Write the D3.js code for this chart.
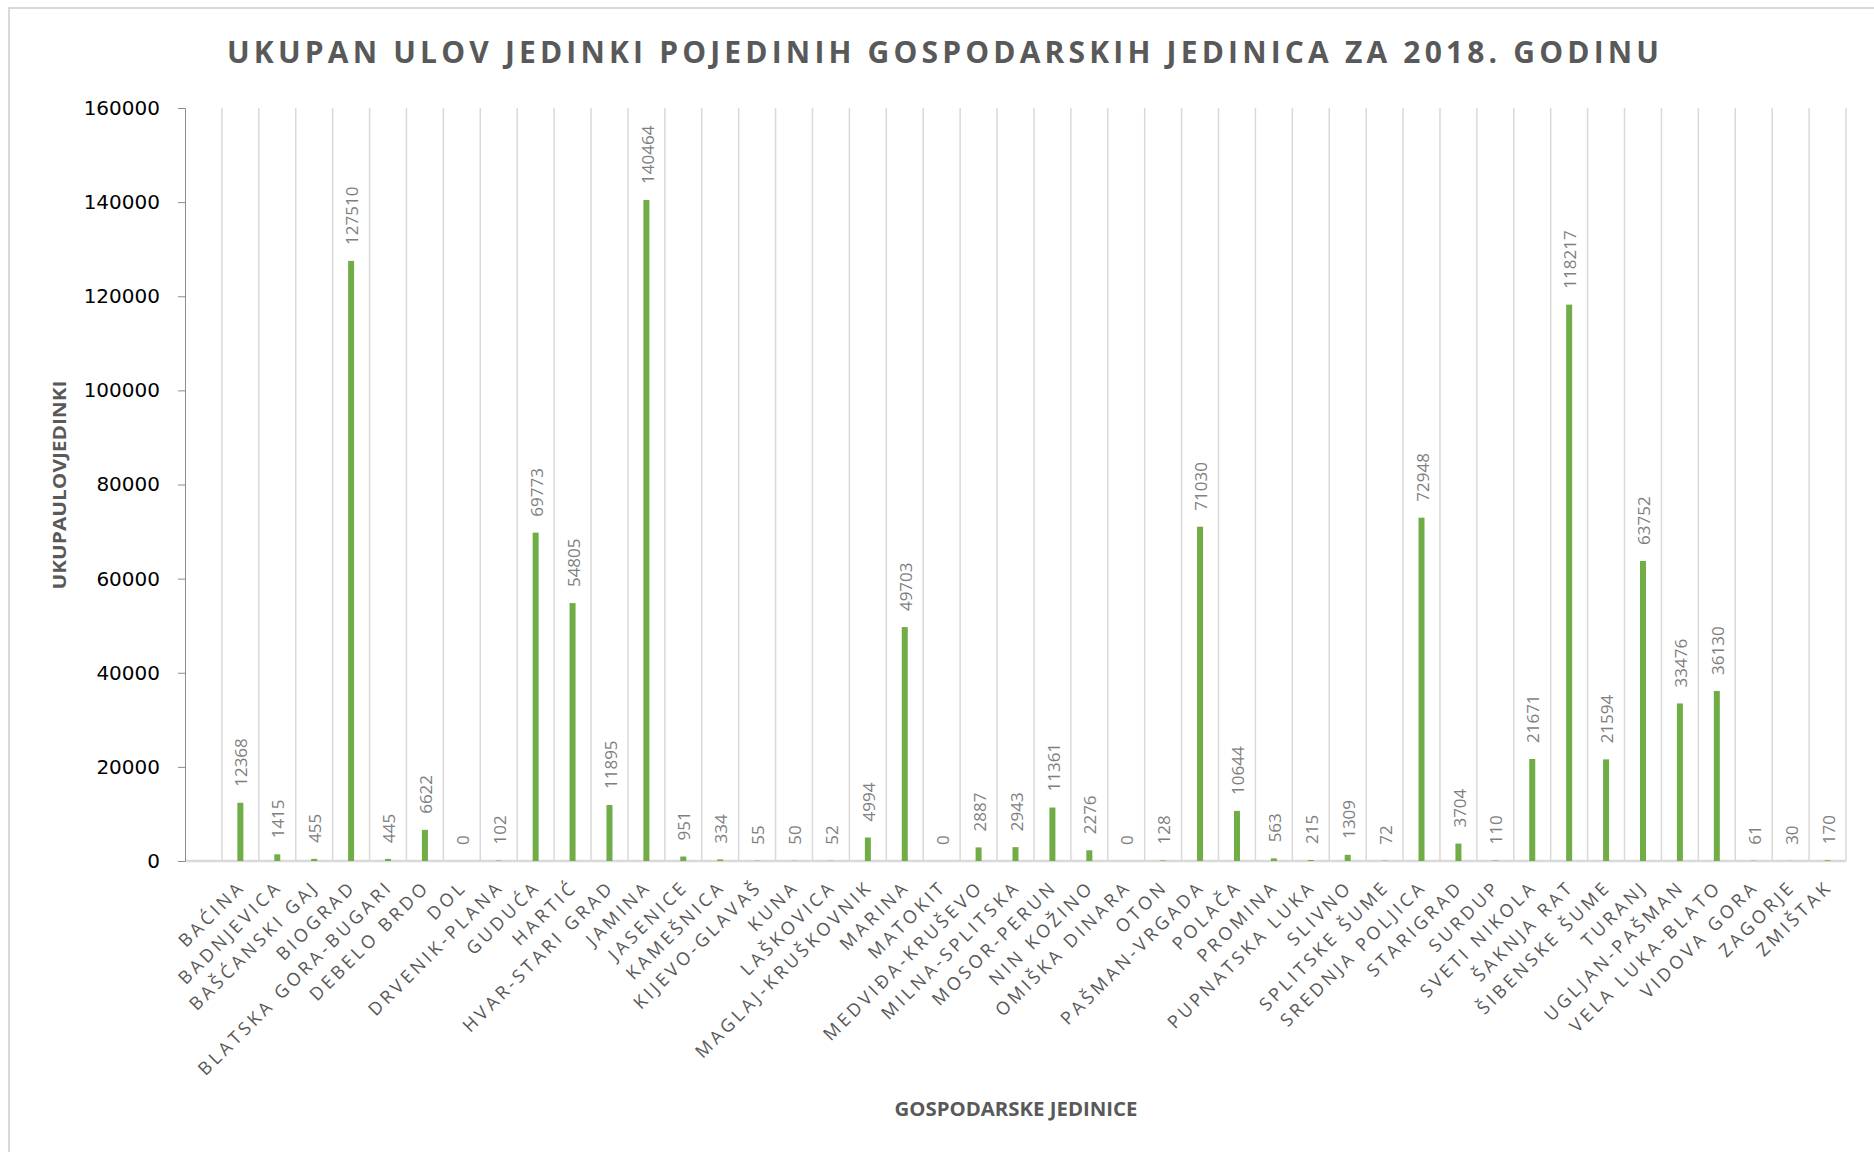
<!DOCTYPE html>
<html>
<head>
<meta charset="utf-8">
<script src="https://cdn.jsdelivr.net/npm/d3@7"></script>
<style>
  body { margin: 0; background: #fff; }
  svg { display: block; }
</style>
</head>
<body>
<div id="chart"></div>
<script>
'use strict';

// categories and values
const units = ["BAĆINA", "BADNJEVICA", "BAŠĆANSKI GAJ", "BIOGRAD", "BLATSKA GORA-BUGARI",
    "DEBELO BRDO", "DOL", "DRVENIK-PLANA", "GUDUĆA", "HARTIĆ", "HVAR-STARI GRAD", "JAMINA",
    "JASENICE", "KAMEŠNICA", "KIJEVO-GLAVAŠ", "KUNA", "LAŠKOVICA", "MAGLAJ-KRUŠKOVNIK",
    "MARINA", "MATOKIT", "MEDVIĐA-KRUŠEVO", "MILNA-SPLITSKA", "MOSOR-PERUN", "NIN KOŽINO",
    "OMIŠKA DINARA", "OTON", "PAŠMAN-VRGADA", "POLAČA", "PROMINA", "PUPNATSKA LUKA", "SLIVNO",
    "SPLITSKE ŠUME", "SREDNJA POLJICA", "STARIGRAD", "SURDUP", "SVETI NIKOLA", "ŠAKNJA RAT",
    "ŠIBENSKE ŠUME", "TURANJ", "UGLJAN-PAŠMAN", "VELA LUKA-BLATO", "VIDOVA GORA", "ZAGORJE",
    "ZMIŠTAK"];

const catch2018 = [12368, 1415, 455, 127510, 445, 6622, 0, 102, 69773, 54805, 11895, 140464,
    951, 334, 55, 50, 52, 4994, 49703, 0, 2887, 2943, 11361, 2276, 0, 128, 71030, 10644, 563,
    215, 1309, 72, 72948, 3704, 110, 21671, 118217, 21594, 63752, 33476, 36130, 61, 30, 170];

const yTicks = [0, 20000, 40000, 60000, 80000, 100000, 120000, 140000, 160000];

const titleText = "UKUPAN ULOV JEDINKI POJEDINIH GOSPODARSKIH JEDINICA ZA 2018. GODINU";
const yTitle = "UKUPAULOVJEDINKI";
const xTitle = "GOSPODARSKE JEDINICE";

const W = 1874, H = 1152;
const margin = { top: 108, right: 28, bottom: 291, left: 185 };

let data = units.map((u, i) => ({ name: u, value: catch2018[i] }));

let svg = d3.select("#chart").append("svg")
    .attr("width", W)
    .attr("height", H);

// chart area border
svg.append("rect")
    .attr("x", 9).attr("y", 8)
    .attr("width", W + 20).attr("height", H + 20)
    .attr("fill", "none")
    .attr("stroke", "#d9d9d9")
    .attr("stroke-width", 2);

let x = d3.scaleBand()
    .domain([" "].concat(units))   // first slot is empty in the original
    .range([margin.left, W - margin.right])
    .padding(0);

let y = d3.scaleLinear()
    .domain([0, 160000])
    .range([H - margin.bottom, margin.top]);

// vertical gridlines at category boundaries
let bounds = x.domain().slice(1).map(d => x(d)).concat([x.range()[1]]);
svg.append("g")
    .selectAll("line")
    .data(bounds)
    .enter().append("line")
    .attr("x1", d => d).attr("x2", d => d)
    .attr("y1", y(160000)).attr("y2", y(0))
    .attr("stroke", "#d9d9d9")
    .attr("stroke-width", 1.5);

// x axis line
svg.append("line")
    .attr("x1", margin.left).attr("x2", x.range()[1])
    .attr("y1", y(0)).attr("y2", y(0))
    .attr("stroke", "#d9d9d9")
    .attr("stroke-width", 2.5);

// y axis
let yAxis = svg.append("g")
    .attr("transform", "translate(" + margin.left + ",0)")
    .call(d3.axisLeft(y).tickValues(yTicks).tickSize(7).tickPadding(18).tickSizeOuter(7)
        .tickFormat(d3.format("d")));
yAxis.select(".domain").attr("stroke", "#8c8c8c");
yAxis.selectAll(".tick line").attr("stroke", "#8c8c8c");
yAxis.selectAll("text")
    .attr("font-family", "DejaVu Sans")
    .attr("font-size", "20px")
    .attr("fill", "#000");

let barW = 6;

// bars
svg.append("g")
    .selectAll("rect")
    .data(data)
    .enter().append("rect")
    .attr("x", d => x(d.name) + (x.bandwidth() - barW) / 2)
    .attr("y", d => y(d.value))
    .attr("width", barW)
    .attr("height", d => y(0) - y(d.value))
    .attr("fill", "#70ad47");

// data labels
svg.append("g")
    .selectAll("text")
    .data(data)
    .enter().append("text")
    .attr("transform", d => "translate(" + (x(d.name) + x.bandwidth() / 2 + 1) + "," + (y(d.value) - 16) + ") rotate(-90)")
    .attr("dy", "0.36em")
    .attr("font-family", "Open Sans")
    .attr("font-size", "17px")
    .attr("fill", "#7f7f7f")
    .text(d => d.value);

// category labels
svg.append("g")
    .selectAll("text")
    .data(data)
    .enter().append("text")
    .attr("transform", d => "translate(" + (x(d.name) + x.bandwidth() / 2 + 6) + "," + (y(0) + 27) + ") rotate(-45)")
    .attr("text-anchor", "end")
    .attr("font-family", "Open Sans")
    .attr("font-size", "18px")
    .attr("letter-spacing", "3.5px")
    .attr("fill", "#595959")
    .text(d => d.name);

// titles
svg.append("text")
    .attr("x", 943).attr("y", 63)
    .attr("text-anchor", "middle")
    .attr("font-family", "Open Sans")
    .attr("font-weight", "bold")
    .attr("font-size", "30px")
    .attr("fill", "#595959")
    .attr("textLength", 1432)
    .attr("lengthAdjust", "spacing")
    .text(titleText);

svg.append("text")
    .attr("transform", "translate(66,485) rotate(-90)")
    .attr("text-anchor", "middle")
    .attr("font-family", "Open Sans")
    .attr("font-weight", "bold")
    .attr("font-size", "18px")
    .attr("fill", "#595959")
    .attr("textLength", 209)
    .attr("lengthAdjust", "spacingAndGlyphs")
    .text(yTitle);

svg.append("text")
    .attr("x", 1016).attr("y", 1116)
    .attr("text-anchor", "middle")
    .attr("font-family", "Open Sans")
    .attr("font-weight", "bold")
    .attr("font-size", "20px")
    .attr("fill", "#595959")
    .attr("textLength", 243)
    .attr("lengthAdjust", "spacingAndGlyphs")
    .text(xTitle);
</script>
</body>
</html>
